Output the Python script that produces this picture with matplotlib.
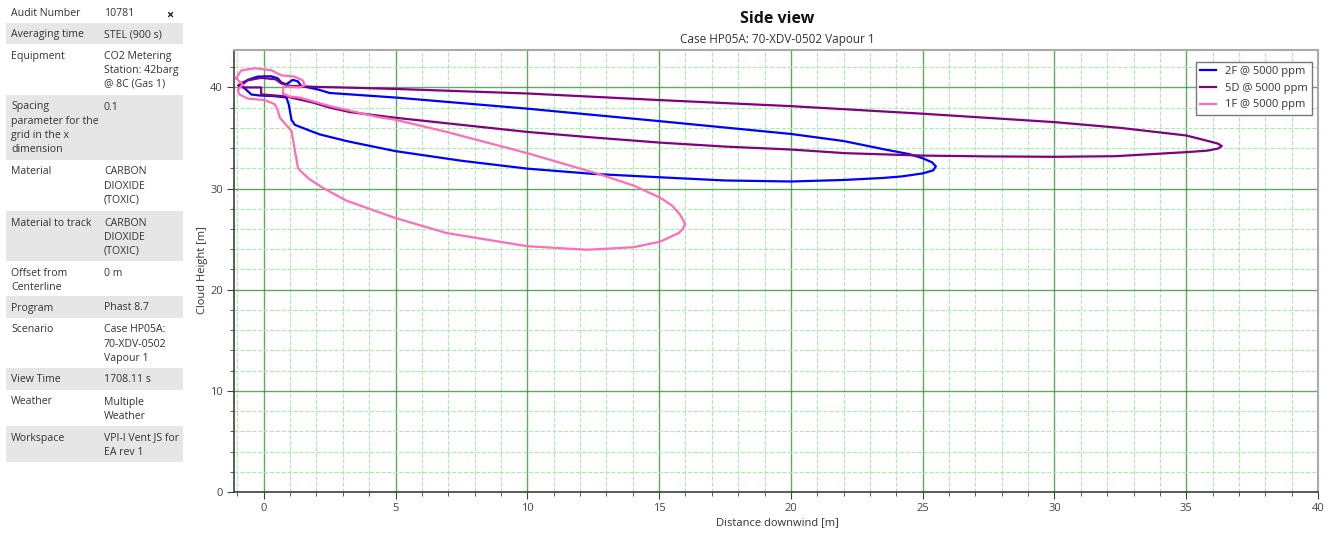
import matplotlib
matplotlib.use("Agg")
import matplotlib.pyplot as plt
from matplotlib.patches import Rectangle
from matplotlib.ticker import MultipleLocator

plt.rcParams['font.family'] = ['Open Sans', 'DejaVu Sans']

# info table on the left
row_labels = ["Audit Number", "Averaging time", "Equipment",
              "Spacing\nparameter for the\ngrid in the x\ndimension",
              "Material", "Material to track", "Offset from\nCenterline",
              "Program", "Scenario", "View Time", "Weather", "Workspace"]
row_values = ["10781", "STEL (900 s)", "CO2 Metering\nStation: 42barg\n@ 8C (Gas 1)",
              "0.1", "CARBON\nDIOXIDE\n(TOXIC)", "CARBON\nDIOXIDE\n(TOXIC)", "0 m",
              "Phast 8.7", "Case HP05A:\n70-XDV-0502\nVapour 1", "1708.11 s",
              "Multiple\nWeather", "VPI-I Vent JS for\nEA rev 1"]

# cloud side-view contours (distance downwind [m], height [m])
x_2f = [-0.85, -0.61, -0.23, 0.28, 0.53, 0.66, 0.85, 1.1, 1.29, 1.42, 2.05, 2.5,
        5.0, 10.0, 15.0, 20.0, 22.0, 23.5, 24.5, 25.0, 25.35, 25.5, 25.4, 25.0,
        24.2, 23.5, 22.0, 20.0, 17.5, 15.0, 12.5, 10.0, 7.5, 5.0, 3.5, 3.14, 2.13,
        1.87, 1.18, 1.05, 0.95, 0.86, 0.35, -0.15, -0.47, -0.66, -0.85]
y_2f = [40.2, 40.75, 41.07, 41.1, 40.9, 40.5, 40.3, 40.75, 40.6, 40.15, 39.8, 39.45,
        39.0, 37.9, 36.67, 35.4, 34.7, 33.9, 33.4, 33.0, 32.6, 32.2, 31.8, 31.5,
        31.2, 31.05, 30.85, 30.7, 30.8, 31.12, 31.45, 31.97, 32.75, 33.7, 34.5,
        34.7, 35.35, 35.6, 36.3, 36.8, 38.3, 39.0, 39.15, 39.2, 39.3, 39.75, 40.2]

x_5d = [-0.95, -0.8, -0.6, -0.1, 0.45, 0.66, 1.0, 2.0, 2.9, 5.0, 10.0, 15.0, 20.0,
        25.0, 30.0, 32.5, 35.0, 35.83, 36.2, 36.35, 36.2, 35.8, 35.0, 32.3, 30.0,
        27.5, 25.0, 22.07, 20.0, 17.5, 15.0, 12.5, 10.0, 7.5, 5.0, 3.27, 2.51,
        1.87, 0.86, -0.03, -0.1, -0.1, -0.8, -0.95]
y_5d = [40.2, 40.5, 40.7, 40.95, 40.8, 40.4, 40.15, 40.05, 40.0, 39.85, 39.4, 38.75,
        38.15, 37.4, 36.57, 36.0, 35.25, 34.7, 34.45, 34.2, 33.95, 33.75, 33.6,
        33.2, 33.14, 33.18, 33.26, 33.5, 33.86, 34.15, 34.55, 35.05, 35.6, 36.3,
        37.0, 37.56, 38.0, 38.5, 39.1, 39.3, 39.3, 40.0, 40.0, 40.2]

x_1f = [-1.05, -0.86, -0.35, 0.28, 0.66, 1.17, 1.48, 1.55, 1.36, 0.75, 0.72, 0.98,
        1.36, 2.51, 4.28, 5.0, 6.94, 10.0, 12.76, 14.03, 15.04, 15.5, 15.8, 15.99,
        15.9, 15.74, 15.04, 14.03, 12.26, 10.0, 6.94, 4.98, 3.14, 2.25, 1.75, 1.49,
        1.3, 1.05, 0.61, 0.53, 0.41, 0.03, -0.61, -0.92, -0.99, -0.8, -1.05]
y_1f = [40.9, 41.67, 41.9, 41.7, 41.2, 41.07, 40.7, 40.2, 40.0, 40.1, 39.4, 39.1,
        39.0, 38.15, 37.1, 36.8, 35.6, 33.5, 31.4, 30.3, 29.1, 28.3, 27.4, 26.5,
        26.0, 25.6, 24.75, 24.2, 23.95, 24.3, 25.6, 27.1, 28.8, 30.06, 30.9, 31.5,
        32.0, 35.7, 37.0, 37.75, 38.35, 38.75, 38.9, 39.3, 39.7, 40.3, 40.9]

series = [(x_2f, y_2f, "2F @ 5000 ppm", "#0000ff"),
          (x_5d, y_5d, "5D @ 5000 ppm", "#800080"),
          (x_1f, y_1f, "1F @ 5000 ppm", "#ff6eb4")]

W, H = 1336, 533
fig = plt.figure(figsize=(W / 100, H / 100), dpi=100)

# table drawn in pixel coordinates
tab = fig.add_axes([0, 0, 200 / W, 1])
tab.set_xlim(0, 200)
tab.set_ylim(H, 0)
tab.axis('off')
row_tops = [2, 23, 44, 95, 160, 211, 261, 296, 318, 368, 390, 426]
row_bots = [23, 44, 95, 160, 211, 261, 296, 318, 368, 390, 426, 462]
for i, (lab, val) in enumerate(zip(row_labels, row_values)):
    if i % 2 == 1:
        tab.add_patch(Rectangle((6, row_tops[i]), 177, row_bots[i] - row_tops[i],
                                color="#e6e6e6", lw=0))
    tab.text(11, row_tops[i] + 6.5, lab, va='top', ha='left', fontsize=7.6,
             color="#333333", linespacing=1.4)
    tab.text(104, row_tops[i] + 6.5, val, va='top', ha='left', fontsize=7.6,
             color="#333333", linespacing=1.4)
tab.text(170, 15, "×", ha='center', va='center', fontsize=9, color="#111111",
         weight='bold')

# main plot
ax = fig.add_axes([234 / W, 1 - 492 / H, (1318 - 234) / W, (492 - 50) / H])
for xs, ys, lab, col in series:
    ax.plot(xs, ys, color=col, lw=1.6, label=lab)

ax.set_xlim(-1.13, 40)
ax.set_ylim(0, 43.7)
ax.xaxis.set_major_locator(MultipleLocator(5))
ax.xaxis.set_minor_locator(MultipleLocator(1))
ax.yaxis.set_major_locator(MultipleLocator(10))
ax.yaxis.set_minor_locator(MultipleLocator(2))
ax.grid(which='major', color='#2e8b2e', lw=1.0, alpha=0.75)
ax.grid(which='minor', color='#a8eea8', lw=0.8, ls='--')
ax.set_axisbelow(True)
ax.tick_params(which='major', length=5, color='#404040', labelsize=8,
               labelcolor='#444444', pad=3)
ax.tick_params(which='minor', length=3, color='#404040')
for s in ['left', 'bottom']:
    ax.spines[s].set_color('#404040')
    ax.spines[s].set_linewidth(1.2)
for s in ['top', 'right']:
    ax.spines[s].set_color('#aaaaaa')
    ax.spines[s].set_linewidth(1.5)

leg = ax.legend(loc='upper right', bbox_to_anchor=(0.9945, 0.973), borderaxespad=0,
                fontsize=8, handlelength=1.4, fancybox=False, framealpha=1,
                edgecolor='#777777', labelcolor='#333333')
leg.get_frame().set_linewidth(1.0)

fig.text(777 / W, 1 - 19 / H, "Side view", ha='center', va='center',
         fontsize=11.5, weight='bold', color='#111111')
fig.text(777 / W, 1 - 39 / H, "Case HP05A: 70-XDV-0502 Vapour 1", ha='center',
         va='center', fontsize=8.5, color='#333333')
fig.text(777 / W, 1 - 523 / H, "Distance downwind [m]", ha='center', va='center',
         fontsize=8, color='#333333')
fig.text(203 / W, 1 - 270 / H, "Cloud Height [m]", ha='center', va='center',
         rotation=90, fontsize=8, color='#333333')

fig.savefig("out.png", dpi=100)
